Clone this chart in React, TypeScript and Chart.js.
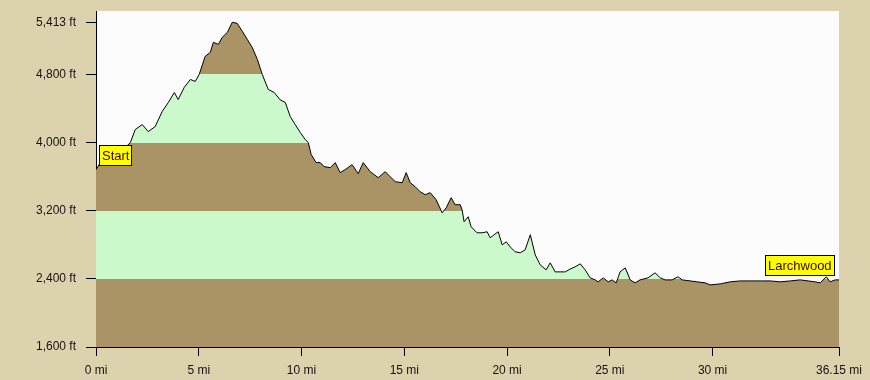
import React, { useEffect, useRef } from "react";
import { Chart, registerables } from "chart.js";

Chart.register(...registerables);

const MILES: number[] = [
  0, 0.21, 0.7, 1.18, 1.52, 1.67, 1.91, 2.25, 2.54, 2.88, 3.22, 3.52, 3.81, 4.0, 4.29, 4.59, 4.83,
  5.02, 5.31, 5.56, 5.71, 5.95, 6.14, 6.39, 6.63, 6.87, 7.12, 7.36, 7.6, 7.85, 8.09, 8.38, 8.67,
  8.97, 9.21, 9.45, 9.69, 9.94, 10.18, 10.33, 10.47, 10.71, 10.91, 11.1, 11.4, 11.64, 11.88, 12.12,
  12.46, 12.76, 13.0, 13.34, 13.73, 14.07, 14.31, 14.56, 14.9, 15.09, 15.29, 15.53, 15.77, 16.02,
  16.26, 16.55, 16.84, 17.04, 17.28, 17.47, 17.72, 17.81, 17.91, 18.11, 18.25, 18.54, 18.79, 19.03,
  19.18, 19.37, 19.57, 19.76, 19.96, 20.15, 20.39, 20.64, 20.88, 21.13, 21.37, 21.61, 21.9, 22.1,
  22.34, 22.58, 22.83, 23.07, 23.31, 23.56, 23.8, 24.04, 24.29, 24.43, 24.68, 24.92, 25.11, 25.31,
  25.5, 25.75, 25.99, 26.23, 26.47, 26.86, 27.2, 27.45, 27.69, 28.03, 28.32, 28.52, 28.91, 29.25,
  29.64, 29.88, 30.37, 30.86, 31.34, 31.83, 32.32, 32.8, 33.29, 33.78, 34.26, 34.65, 34.99, 35.24,
  35.53, 35.72, 35.96, 36.15,
];

const ELEVATION_FT: number[] = [
  3682, 3765, 3835, 3918, 3965, 4000, 4153, 4212, 4129, 4188, 4365, 4471, 4588, 4506, 4647, 4741, 4718,
  4800, 5012, 5059, 5177, 5153, 5235, 5294, 5412, 5400, 5306, 5212, 5118, 4977, 4800, 4624, 4588,
  4500, 4471, 4306, 4212, 4118, 4035, 4000, 3859, 3765, 3765, 3718, 3706, 3765, 3647, 3682,
  3741, 3635, 3765, 3659, 3588, 3659, 3600, 3541, 3529, 3647, 3529, 3482, 3424, 3388,
  3412, 3329, 3176, 3235, 3353, 3271, 3271, 3212, 3071, 3129, 3012, 2941, 2941, 2953,
  2882, 2918, 2953, 2800, 2835, 2776, 2718, 2706, 2741, 2918, 2682, 2565, 2506, 2588,
  2482, 2482, 2482, 2515, 2541, 2576, 2506, 2412, 2388, 2365, 2412, 2365, 2388, 2353,
  2482, 2529, 2388, 2353, 2388, 2412, 2471, 2412, 2388, 2388, 2424, 2388, 2376, 2365,
  2353, 2329, 2341, 2365, 2376, 2376, 2376, 2376, 2365, 2376, 2388, 2376, 2365, 2353,
  2424, 2365, 2388, 2388,
];

const X_TICKS: number[] = [0, 5, 10, 15, 20, 25, 30, 36.15];
const Y_TICKS: number[] = [1600, 2400, 3200, 4000, 4800, 5413];
const BAND_BREAKS: number[] = [2400, 3200, 4000, 4800];
const START_LABEL = "Start";
const END_LABEL = "Larchwood";

const Y_MIN = 1600;
const Y_MAX = 5545;
const BROWN = "#aa9365";
const GREEN = "#ccf9cc";
const FONT = '"Liberation Sans", Arial, sans-serif';

export default function App() {
  const canvasRef = useRef<HTMLCanvasElement | null>(null);

  useEffect(() => {
    document.body.style.margin = "0";
    const canvas = canvasRef.current;
    if (!canvas) return;

    const bandFill = (context: any) => {
      const chart = context.chart;
      const area = chart.chartArea;
      if (!area) return BROWN;
      const g = chart.ctx.createLinearGradient(0, area.bottom, 0, area.top);
      const colors = [BROWN, GREEN, BROWN, GREEN, BROWN];
      g.addColorStop(0, colors[0]);
      BAND_BREAKS.forEach((b, i) => {
        const f = (b - Y_MIN) / (Y_MAX - Y_MIN);
        g.addColorStop(f, colors[i]);
        g.addColorStop(f, colors[i + 1]);
      });
      g.addColorStop(1, colors[colors.length - 1]);
      return g;
    };

    const plotBg = {
      id: "plotBg",
      beforeDraw(chart: any) {
        const { ctx, chartArea } = chart;
        ctx.save();
        ctx.fillStyle = "#fcfcfc";
        ctx.fillRect(chartArea.left, chartArea.top, chartArea.right - chartArea.left, chartArea.bottom - chartArea.top);
        ctx.restore();
      },
    };

    const labels = {
      id: "endLabels",
      afterDatasetsDraw(chart: any) {
        const { ctx } = chart;
        const meta = chart.getDatasetMeta(0);
        const pts = meta.data;
        if (!pts.length) return;
        const first = pts[0];
        const last = pts[pts.length - 1];
        ctx.save();
        ctx.font = `13px ${FONT}`;
        ctx.textBaseline = "middle";
        ctx.textAlign = "left";
        const drawBox = (text: string, left: number, top: number) => {
          const tw = ctx.measureText(text).width;
          const w = Math.round(tw + 5);
          const h = 20;
          ctx.fillStyle = "#ffff00";
          ctx.fillRect(Math.round(left) + 0.5, Math.round(top) + 0.5, w, h);
          ctx.strokeStyle = "#000";
          ctx.lineWidth = 1;
          ctx.strokeRect(Math.round(left) + 0.5, Math.round(top) + 0.5, w, h);
          ctx.fillStyle = "#3a0000";
          ctx.fillText(text, Math.round(left) + 3, Math.round(top) + h / 2 + 1);
          return w;
        };
        drawBox(START_LABEL, first.x + 3, first.y - 25);
        const tw2 = ctx.measureText(END_LABEL).width;
        drawBox(END_LABEL, last.x - 5 - Math.round(tw2 + 5), last.y - 25);
        ctx.restore();
      },
    };

    const chart = new Chart(canvas, {
      type: "line",
      data: {
        datasets: [
          {
            data: MILES.map((m, i) => ({ x: m, y: ELEVATION_FT[i] })),
            borderColor: "#000",
            borderWidth: 1,
            pointRadius: 0,
            tension: 0,
            fill: "start",
            backgroundColor: bandFill,
          },
        ],
      },
      options: {
        animation: false,
        responsive: false,
        maintainAspectRatio: false,
        layout: { padding: { left: 0, right: 31, top: 11, bottom: 0 } },
        plugins: { legend: { display: false }, tooltip: { enabled: false } },
        scales: {
          x: {
            type: "linear",
            min: 0,
            max: 36.15,
            afterBuildTicks: (s: any) => {
              s.ticks = X_TICKS.map((v) => ({ value: v }));
            },
            afterFit: (s: any) => {
              s.height = 33;
              s.paddingLeft = 0;
              s.paddingRight = 0;
            },
            ticks: {
              autoSkip: false,
              maxRotation: 0,
              padding: 7,
              color: "#1a1010",
              font: { family: FONT, size: 12 },
              callback: (v: any) => `${v} mi`,
            },
            grid: { drawOnChartArea: false, drawTicks: true, tickLength: 9, color: "#000" },
            border: { display: true, color: "#000", width: 1 },
          },
          y: {
            min: Y_MIN,
            max: Y_MAX,
            afterBuildTicks: (s: any) => {
              s.ticks = Y_TICKS.map((v) => ({ value: v }));
            },
            afterFit: (s: any) => {
              s.width = 96;
              s.paddingTop = 0;
              s.paddingBottom = 0;
            },
            ticks: {
              autoSkip: false,
              padding: 10,
              color: "#1a1010",
              font: { family: FONT, size: 12 },
              callback: (v: any) => `${Number(v).toLocaleString("en-US")} ft`,
            },
            grid: { drawOnChartArea: false, drawTicks: true, tickLength: 10, color: "#000" },
            border: { display: true, color: "#000", width: 1 },
          },
        },
      },
      plugins: [plotBg, labels],
    });

    return () => chart.destroy();
  }, []);

  return (
    <div style={{ width: 870, height: 380, background: "#dcd3ae" }}>
      <canvas ref={canvasRef} width={870} height={380} style={{ display: "block" }} />
    </div>
  );
}
